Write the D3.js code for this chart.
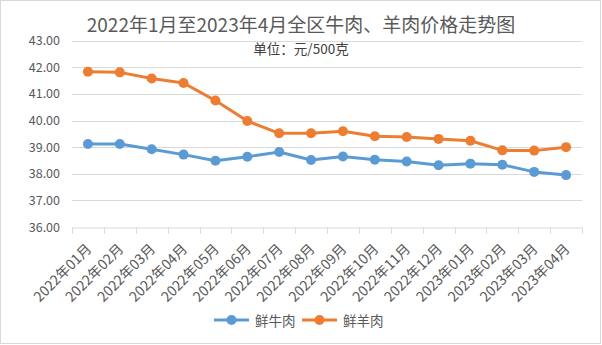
<!DOCTYPE html>
<html><head><meta charset="utf-8">
<script src="https://cdn.jsdelivr.net/npm/d3@7"></script>
<style>body{margin:0;background:#fff;}svg{display:block;}</style>
</head><body>
<script>
const categories = ["2022年01月","2022年02月","2022年03月","2022年04月","2022年05月","2022年06月","2022年07月","2022年08月","2022年09月","2022年10月","2022年11月","2022年12月","2023年01月","2023年02月","2023年03月","2023年04月"];
const beef = [39.12,39.12,38.92,38.72,38.49,38.64,38.82,38.52,38.65,38.53,38.46,38.32,38.38,38.34,38.07,37.95];
const lamb = [41.83,41.81,41.58,41.41,40.75,39.98,39.52,39.52,39.60,39.41,39.38,39.31,39.24,38.88,38.87,39.00];
const yTicks = [36,37,38,39,40,41,42,43];
const seriesNames = ["鲜牛肉","鲜羊肉"];
const colors = ["#5B9BD5","#ED7D31"];
const titleText = "2022年1月至2023年4月全区牛肉、羊肉价格走势图";
const subtitleText = "单位：元/500克";

const W = 602, H = 345;
const font = "'Noto Sans CJK SC','Noto Sans',sans-serif";
const svg = d3.select("body").append("svg").attr("width", W).attr("height", H);
svg.append("rect").attr("x",0.5).attr("y",0.5).attr("width",W-2).attr("height",H-2)
  .attr("fill","#fff").attr("stroke","#D9D9D9");

const x = d3.scaleBand().domain(categories).range([72, 582]);
const y = d3.scaleLinear().domain([36, 43]).range([227, 40.7]);

// gridlines
svg.append("g").selectAll("line").data(yTicks.slice(1)).join("line")
  .attr("x1",72).attr("x2",582).attr("y1",d=>Math.round(y(d))+0.5).attr("y2",d=>Math.round(y(d))+0.5)
  .attr("stroke","#D9D9D9").attr("stroke-width",1);

// y axis labels
const yAxis = d3.axisLeft(y).tickValues(yTicks).tickFormat(d3.format(".2f")).tickSize(0).tickPadding(12);
const gy = svg.append("g").attr("transform","translate(72,0)").call(yAxis);
gy.select(".domain").remove();
gy.selectAll("text").attr("fill","#595959").attr("font-size",12.5).attr("font-family",font);

// x axis
const xAxis = d3.axisBottom(x).tickSize(0).tickPadding(0);
const gx = svg.append("g").attr("transform",`translate(0,${Math.round(y(36))+0.5})`).call(xAxis);
gx.select(".domain").attr("stroke","#D9D9D9");
gx.selectAll("text").attr("fill","#595959").attr("font-size",14).attr("font-family",font)
  .attr("text-anchor","end").attr("dy","0.35em")
  .attr("transform","translate(1,19) rotate(-45)");
// boundary tick marks
const bounds = categories.map(c=>x(c)).concat([x.range()[1]]);
gx.append("g").selectAll("line").data(bounds).join("line")
  .attr("x1",d=>Math.round(d)+0.5).attr("x2",d=>Math.round(d)+0.5).attr("y1",0).attr("y2",6)
  .attr("stroke","#D9D9D9");

// lines
const cx = d => x(d) + x.bandwidth()/2;
[beef, lamb].forEach((vals, i) => {
  const pts = categories.map((c, j) => [cx(c), y(vals[j])]);
  svg.append("path").attr("d", d3.line()(pts)).attr("fill","none")
    .attr("stroke", colors[i]).attr("stroke-width",3).attr("stroke-linejoin","round").attr("stroke-linecap","round");
  svg.append("g").selectAll("circle").data(pts).join("circle")
    .attr("cx",d=>d[0]).attr("cy",d=>d[1]).attr("r",5).attr("fill",colors[i]);
});

// title
svg.append("text").attr("x",301).attr("y",23).attr("text-anchor","middle").attr("dominant-baseline","central")
  .attr("font-size",19).attr("fill","#595959").attr("font-family",font).text(titleText);
svg.append("text").attr("x",301).attr("y",48).attr("text-anchor","middle").attr("dominant-baseline","central")
  .attr("font-size",13.5).attr("fill","#404040").attr("font-family",font).text(subtitleText);

// legend
const legX = [214, 302];
seriesNames.forEach((n, i) => {
  const g = svg.append("g").attr("transform",`translate(${legX[i]},320)`);
  g.append("line").attr("x1",0).attr("x2",35).attr("stroke",colors[i]).attr("stroke-width",3);
  g.append("circle").attr("cx",17.5).attr("cy",0).attr("r",5).attr("fill",colors[i]);
  g.append("text").attr("x",41).attr("y",0).attr("dominant-baseline","central")
    .attr("font-size",13.5).attr("fill","#595959").attr("font-family",font).text(n);
});
</script>
</body></html>
